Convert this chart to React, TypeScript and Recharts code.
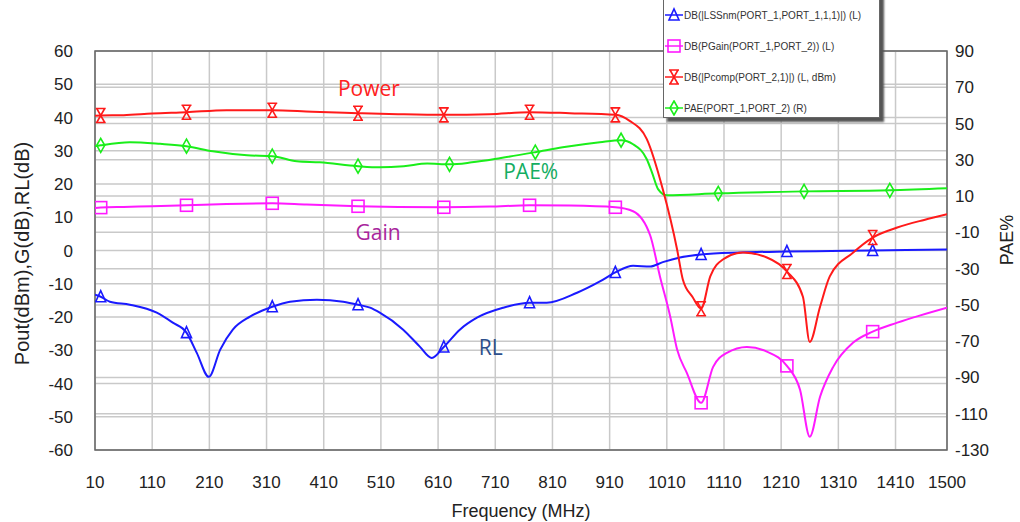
import React from "react";
import {
  CartesianGrid,
  Label,
  Legend,
  Line,
  LineChart,
  ReferenceArea,
  ReferenceDot,
  XAxis,
  YAxis,
} from "recharts";

const freqTicks = [10, 110, 210, 310, 410, 510, 610, 710, 810, 910, 1010, 1110, 1210, 1310, 1410, 1500];
const leftTicks = [-60, -50, -40, -30, -20, -10, 0, 10, 20, 30, 40, 50, 60];
const rightTicks = [-130, -110, -90, -70, -50, -30, -10, 10, 30, 50, 70, 90];

// return loss (dB), left axis
const rlFreq = [10, 20, 36, 71, 118, 146, 170, 188, 209, 229, 251, 281, 320, 351, 398, 444, 470, 491, 508, 549, 578, 599, 620, 648, 678, 724, 770, 800, 853, 893, 920, 951, 981, 1003, 1033, 1070, 1138, 1220, 1325, 1370, 1500];
const rlDb = [-13.3, -13.9, -15.4, -16.3, -18.7, -21.7, -24.7, -30.8, -38, -29.8, -23.8, -19.9, -16.9, -15.4, -14.8, -15.4, -16.3, -17.2, -18.7, -23.8, -28.9, -32.3, -29, -23.8, -20.2, -17.2, -15.7, -15.7, -12.7, -9.3, -6.6, -4.6, -4.8, -3.5, -2.1, -1.2, -0.6, -0.3, -0.1, 0, 0.3];
const rlMarks = [20, 170, 320, 470, 620, 770, 920, 1070, 1220, 1370];

// gain (dB), left axis
const gainFreq = [10, 20, 60, 110, 170, 240, 320, 380, 470, 540, 620, 700, 770, 840, 920, 951, 981, 998, 1016, 1028, 1045, 1070, 1091, 1115, 1150, 1185, 1220, 1243, 1260, 1278, 1301, 1336, 1370, 1413, 1500];
const gainDb = [12.8, 12.9, 13.1, 13.3, 13.6, 14.0, 14.2, 13.8, 13.3, 13.1, 13.0, 13.2, 13.6, 13.5, 13.0, 11.8, 4.5, -7.8, -19.9, -29.8, -36.8, -45.8, -35, -30.8, -29, -30.4, -34.7, -41.9, -56, -44, -35, -27.7, -24.4, -21.7, -17.2];
const gainMarks = [20, 170, 320, 470, 620, 770, 920, 1070, 1220, 1370];

// output power (dBm), left axis
const poutFreq = [10, 20, 60, 110, 170, 240, 320, 390, 470, 540, 620, 700, 770, 840, 920, 945, 975, 1003, 1028, 1038, 1055, 1070, 1086, 1108, 1143, 1185, 1220, 1248, 1260, 1278, 1295, 1336, 1370, 1413, 1460, 1500];
const poutDbm = [40.5, 40.6, 40.7, 41.2, 41.6, 42.2, 42.2, 41.7, 41.3, 41.0, 40.8, 41.0, 41.6, 41.3, 40.8, 39, 33.5, 18.4, 0.3, -8.7, -14, -17.5, -7.8, -2.7, -0.6, -2.1, -6.3, -13.9, -27.5, -16.9, -7.8, -0.6, 3.9, 6.9, 9.2, 10.9];
const poutMarks = [20, 170, 320, 470, 620, 770, 920, 1070, 1220, 1370];

// PAE (%), right axis
const paeFreq = [10, 20, 71, 124, 170, 216, 276, 320, 363, 403, 470, 508, 550, 591, 630, 669, 720, 780, 828, 893, 930, 951, 975, 984, 995, 1010, 1100, 1250, 1400, 1500];
const paePct = [37.5, 38, 39.7, 38.8, 37.5, 34.7, 32.5, 32, 29.2, 28.6, 26.5, 25.9, 26.5, 28, 27.5, 28.6, 31, 34.2, 36.9, 39.7, 40.8, 38.6, 30.3, 23.1, 13.7, 10.4, 11.5, 12.6, 13.2, 14.3];
const paeMarks = [20, 170, 320, 470, 630, 780, 930, 1100, 1250, 1400];

const legendItems = [
  { name: "DB(|LSSnm(PORT_1,PORT_1,1,1)|) (L)", color: "#1a1aff", kind: "tri" },
  { name: "DB(PGain(PORT_1,PORT_2)) (L)", color: "#ff1aff", kind: "square" },
  { name: "DB(|Pcomp(PORT_2,1)|) (L, dBm)", color: "#ff1a1a", kind: "hourglass" },
  { name: "PAE(PORT_1,PORT_2) (R)", color: "#1aee1a", kind: "diamond" },
];

const notes = [
  { text: "Power", f: 489, y: 48.6, color: "#ff2020" },
  { text: "PAE%", f: 772, y: 23.6, color: "#14ad62" },
  { text: "Gain", f: 505, y: 5.3, color: "#a8259c" },
  { text: "RL", f: 702, y: -29.3, color: "#2d4f8c" },
];

const toPoints = (f: number[], v: number[]) => f.map((x, i) => ({ f: x, v: v[i] }));

function Marker({ kind, x, y, color }: { kind: string; x: number; y: number; color: string }) {
  const common = { fill: "none", stroke: color, strokeWidth: 1.6 };
  if (kind === "tri") return <path d={`M${x - 5},${y + 5} L${x + 5},${y + 5} L${x},${y - 6} Z`} {...common} />;
  if (kind === "square") return <rect x={x - 6} y={y - 6} width={12} height={12} {...common} />;
  if (kind === "hourglass")
    return (
      <path
        d={`M${x - 5},${y - 7} H${x + 5} M${x - 5},${y + 7} H${x + 5} M${x - 4},${y - 7} L${x + 4},${y + 7} M${x + 4},${y - 7} L${x - 4},${y + 7}`}
        {...common}
      />
    );
  return <path d={`M${x},${y - 7} L${x + 4},${y} L${x},${y + 7} L${x - 4},${y} Z`} {...common} />;
}

const markerDot = (kind: string, color: string, marks: number[]) => (props: any) => {
  const { cx, cy, payload, index } = props;
  if (!marks.includes(payload?.f)) return <g key={`d-${kind}-${index}`} />;
  return (
    <g key={`d-${kind}-${index}`}>
      <Marker kind={kind} x={cx} y={cy} color={color} />
    </g>
  );
};

function LegendBox() {
  return (
    <div
      style={{
        width: 215,
        height: 123,
        background: "#fff",
        border: "1px solid #666",
        boxShadow: "4px 4px 2px #555",
        fontFamily: "Liberation Sans, Arial, sans-serif",
        fontSize: 10,
        color: "#333",
        position: "relative",
      }}
    >
      {legendItems.map((it, i) => (
        <div key={it.name} style={{ position: "absolute", left: 0, top: 13 + i * 31, height: 16, display: "flex", alignItems: "center" }}>
          <svg width={20} height={16}>
            <line x1={1} y1={8} x2={19} y2={8} stroke={it.color} strokeWidth={1.5} />
            <Marker kind={it.kind} x={10} y={8} color={it.color} />
          </svg>
          <span style={{ whiteSpace: "nowrap" }}>{it.name}</span>
        </div>
      ))}
    </div>
  );
}

const axisFont = { fill: "#222", fontSize: 17, fontFamily: "Liberation Sans, Arial, sans-serif" };

export default function App() {
  return (
    <div style={{ width: 1020, height: 522, background: "#fff" }}>
      <style>{"body{margin:0}"}</style>
      <LineChart width={1020} height={522} margin={{ top: 51, right: 0, bottom: 0, left: 0 }}>
        <CartesianGrid yAxisId="left" stroke="#c9c9c9" strokeWidth={1.5} />
        <CartesianGrid yAxisId="right" vertical={false} stroke="#c9c9c9" strokeWidth={1.5} />
        <XAxis
          dataKey="f"
          type="number"
          domain={[10, 1500]}
          ticks={freqTicks}
          allowDataOverflow
          height={72}
          axisLine={false}
          tickLine={false}
          tickMargin={20}
          tick={axisFont}
        >
          <Label value="Frequency (MHz)" position="insideBottom" offset={5} style={{ fontSize: 18, fill: "#222", fontFamily: "Liberation Sans, Arial, sans-serif" }} />
        </XAxis>
        <YAxis
          yAxisId="left"
          domain={[-60, 60]}
          ticks={leftTicks}
          width={95}
          axisLine={false}
          tickLine={false}
          tickMargin={16}
          tick={axisFont}
          label={({ viewBox }: any) => {
            const cx = viewBox.x + 22;
            const cy = viewBox.y + viewBox.height / 2 + 3;
            return (
              <text x={cx} y={cy} transform={`rotate(-90 ${cx} ${cy})`} textAnchor="middle" dominantBaseline="central" fill="#222" fontSize={20} fontFamily="Liberation Sans, Arial, sans-serif">
                Pout(dBm),G(dB),RL(dB)
              </text>
            );
          }}
        />
        <YAxis
          yAxisId="right"
          orientation="right"
          domain={[-130, 90]}
          ticks={rightTicks}
          width={73}
          axisLine={false}
          tickLine={false}
          tick={{ ...axisFont, textAnchor: "start" }}
          label={({ viewBox }: any) => {
            const cx = viewBox.x + 60;
            const cy = 240;
            return (
              <text x={cx} y={cy} transform={`rotate(-90 ${cx} ${cy})`} textAnchor="middle" dominantBaseline="central" fill="#222" fontSize={18} fontFamily="Liberation Sans, Arial, sans-serif">
                PAE%
              </text>
            );
          }}
        />
        <ReferenceArea yAxisId="left" x1={10} x2={1500} y1={-60} y2={60} fill="none" stroke="#666" strokeWidth={1.5} ifOverflow="visible" />
        <Line data={toPoints(paeFreq, paePct)} dataKey="v" yAxisId="right" type="monotone" stroke="#1aee1a" strokeWidth={2} dot={markerDot("diamond", "#1aee1a", paeMarks)} activeDot={false} isAnimationActive={false} />
        <Line data={toPoints(gainFreq, gainDb)} dataKey="v" yAxisId="left" type="monotone" stroke="#ff1aff" strokeWidth={2} dot={markerDot("square", "#ff1aff", gainMarks)} activeDot={false} isAnimationActive={false} />
        <Line data={toPoints(rlFreq, rlDb)} dataKey="v" yAxisId="left" type="monotone" stroke="#1a1aff" strokeWidth={2} dot={markerDot("tri", "#1a1aff", rlMarks)} activeDot={false} isAnimationActive={false} />
        <Line data={toPoints(poutFreq, poutDbm)} dataKey="v" yAxisId="left" type="monotone" stroke="#ff1a1a" strokeWidth={2} dot={markerDot("hourglass", "#ff1a1a", poutMarks)} activeDot={false} isAnimationActive={false} />
        {notes.map((n) => (
          <ReferenceDot
            key={n.text}
            yAxisId="left"
            x={n.f}
            y={n.y}
            r={0.01}
            fill="none"
            stroke="none"
            ifOverflow="visible"
            label={{ value: n.text, position: "center", fill: n.color, fontSize: 21, fontFamily: "Open Sans, sans-serif" }}
          />
        ))}
        <Legend
          layout="horizontal"
          verticalAlign="middle"
          align="center"
          wrapperStyle={{ left: 663, top: -7, width: 217, height: 125 }}
          content={() => <LegendBox />}
        />
      </LineChart>
    </div>
  );
}
